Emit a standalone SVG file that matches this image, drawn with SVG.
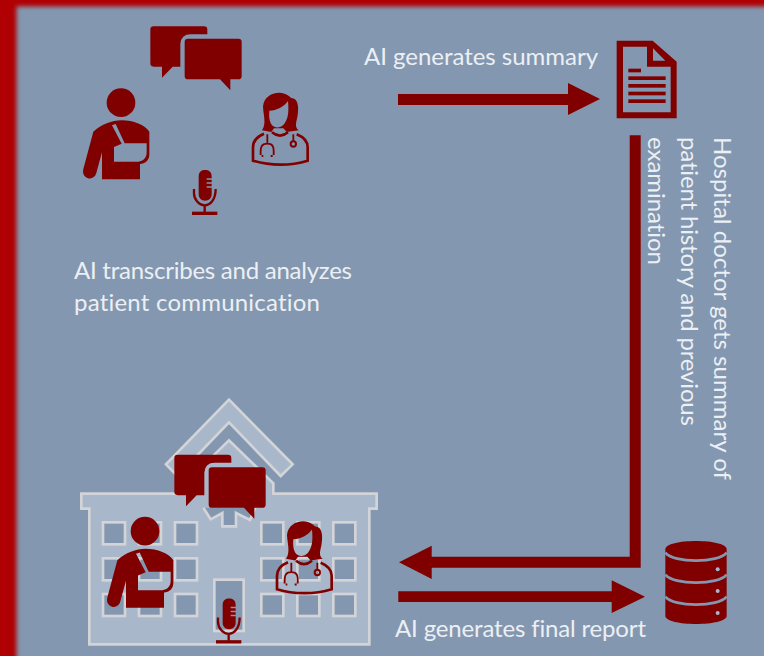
<svg xmlns="http://www.w3.org/2000/svg" xmlns:xlink="http://www.w3.org/1999/xlink" width="764" height="656" viewBox="0 0 764 656">
<style>
.dk{fill:#800000}
.ln{fill:none;stroke:#800000}
.t{font-family:"Lato","Open Sans","Liberation Sans",sans-serif;font-size:24px;fill:#eceff3;font-variant-ligatures:none}
.w{fill:#8397b0;stroke:#d2d4d8;stroke-width:8}
.b{fill:#a9b7ca;stroke:#d2d4d8;stroke-width:8}
</style>
<defs>
<filter id="blur" x="-5%" y="-5%" width="110%" height="110%"><feGaussianBlur stdDeviation="2.2"/></filter>
<g id="chat" transform="translate(70,15) scale(.33333)">
<path class="dk" d="M251,34H402Q412,34 412,44V58H362Q333,58 331,87V155H308L276,188V155H251Q241,155 241,145V44Q241,34 251,34Z"/>
<path class="dk" d="M354,71H505Q515,71 515,81V183Q515,193 505,193H481V226L450,193H354Q344,193 344,183V81Q344,71 354,71Z"/>
</g>
<g id="patient" transform="translate(70,15) scale(.33333)">
<circle class="dk" cx="153" cy="263" r="43"/>
<path class="dk" fill-rule="evenodd" d="M70,350C95,328 125,316 155,316C190,316 225,330 238,350V418C238,435 228,445 212,447H210V493H96V412L79,474C74,492 56,494 46,485C38,478 38,468 41,458Z
M126,331L137,327L164,385H230V412C230,428 220,439 205,440H132V396L155,386Z"/>
</g>
<g id="doctor" transform="translate(70,15) scale(.33333)">
<path class="dk" fill-rule="evenodd" d="M576,346C590,325 580,300 579,275C581,248 603,233 628,233C648,234 656,242 664,249C684,249 687,275 683,300C680,320 672,335 686,346L650,351L640,340H612L604,351Z
M598,287C620,287 642,275 654,258C657,290 655,310 642,328C628,342 612,340 603,326C597,315 597,300 598,287Z"/>
<path class="ln" stroke-width="8" d="M582,356C560,365 549,377 549,397V437C600,453 662,453 713,437V397C713,377 700,366 680,358M606,352Q630,372 654,352"/>
<path class="ln" stroke-width="5.5" d="M592,358V386C574,386 571,396 572,420M575,423H580M592,386C610,386 612,396 611,420M602,423H608M670,358V378"/>
<circle class="ln" stroke-width="6" cx="670" cy="387" r="8"/>
</g>
<g id="mic" transform="translate(70,15) scale(.33333)">
<path class="dk" d="M386,485C386,470 395,465 405,465C416,465 425,470 425,485V490H410V494H425V502H410V506H425V514H410V518H425V538C425,550 416,557 405,557C395,557 386,550 386,538Z"/>
<path class="ln" stroke-width="7" d="M372,522V535C372,555 388,571 404,571C420,571 437,555 437,522M404,571V592"/>
<rect class="dk" x="366" y="590" width="76" height="10"/>
</g>
</defs>

<rect width="764" height="656" fill="#b00004"/>
<rect x="16.5" y="6.5" width="800" height="700" fill="#8397b0" filter="url(#blur)"/>

<g id="hospital" transform="translate(70,395) scale(.33333)">
<path class="b" d="M477,14L668,208L632,243L477,82L322,243L288,208Z"/>
<path class="b" d="M34,296H345V265L477,136L610,265V296H920V341H898V748H58V341H34Z"/>
<path class="w" d="M400,338L422,373L457,354V394H498V354L540,375L556,338"/>
<g class="win">
<rect class="w" x="99" y="382" width="66" height="66"/><rect class="w" x="207" y="382" width="66" height="66"/><rect class="w" x="315" y="382" width="66" height="66"/>
<rect class="w" x="99" y="490" width="66" height="66"/><rect class="w" x="207" y="490" width="66" height="66"/><rect class="w" x="315" y="490" width="66" height="66"/>
<rect class="w" x="99" y="597" width="66" height="66"/><rect class="w" x="207" y="597" width="66" height="66"/><rect class="w" x="315" y="597" width="66" height="66"/>
<rect class="w" x="574" y="382" width="66" height="66"/><rect class="w" x="682" y="382" width="66" height="66"/><rect class="w" x="790" y="382" width="66" height="66"/>
<rect class="w" x="574" y="490" width="66" height="66"/><rect class="w" x="682" y="490" width="66" height="66"/><rect class="w" x="790" y="490" width="66" height="66"/>
<rect class="w" x="574" y="597" width="66" height="66"/><rect class="w" x="682" y="597" width="66" height="66"/><rect class="w" x="790" y="597" width="66" height="66"/>
<rect class="w" x="433" y="554" width="88" height="154"/>
</g>
</g>

<g id="consultation-top">
<use xlink:href="#chat" href="#chat"/>
<use xlink:href="#patient" href="#patient"/>
<use xlink:href="#doctor" href="#doctor"/>
<use xlink:href="#mic" href="#mic"/>
</g>
<g id="consultation-bottom" transform="translate(24,428.5)">
<use xlink:href="#chat" href="#chat"/>
<use xlink:href="#patient" href="#patient"/>
<use xlink:href="#doctor" href="#doctor"/>
<use xlink:href="#mic" href="#mic"/>
</g>

<g id="document" transform="translate(580,20) scale(.33333)">
<path class="dk" fill-rule="evenodd" d="M110,62H218L290,125V295H110ZM129,80V277H272V140H201V80ZM219,85V122H256Z"/>
<rect class="dk" x="145" y="146" width="38" height="11"/>
<rect class="dk" x="145" y="169" width="112" height="11"/>
<rect class="dk" x="145" y="192" width="112" height="11"/>
<rect class="dk" x="145" y="215" width="112" height="11"/>
<rect class="dk" x="145" y="238" width="112" height="11"/>
</g>

<g id="database" transform="translate(390,520) scale(.33333)">
<path class="dk" d="M826,88C826,72 870,63 918,63C966,63 1010,72 1010,88V288C1010,303 966,312 918,312C870,312 826,303 826,288Z"/>
<path fill="none" stroke="#8397b0" stroke-width="8" d="M826,98C850,130 986,130 1010,98M826,164C850,196 986,196 1010,164M826,230C850,262 986,262 1010,230"/>
<circle cx="983" cy="148" r="6" fill="#a9b7ca"/><circle cx="983" cy="213" r="6" fill="#a9b7ca"/><circle cx="983" cy="279" r="6" fill="#a9b7ca"/>
</g>

<g id="connectors">
<path class="dk" d="M398,94H568V83L600,99L568,115V105H398Z"/>
<path class="dk" d="M629.7,135.3H640.7V567.7H431.7V579L399,562.3L431.7,545.7V556.7H629.7Z"/>
<path class="dk" d="M398.3,591.3H611.7V580.3L645,596.7L611.7,613V602H398.3Z"/>
</g>

<g id="labels">
<text class="t" x="364" y="65" textLength="234">AI generates summary</text>
<text class="t" x="74" y="279" textLength="278">AI transcribes and analyzes</text>
<text class="t" x="74" y="311" textLength="246">patient communication</text>
<text class="t" x="395" y="637" textLength="251">AI generates final report</text>
<text class="t" transform="translate(714,137) rotate(90)" textLength="343">Hospital doctor gets summary of</text>
<text class="t" transform="translate(681,137) rotate(90)" textLength="289">patient history and previous</text>
<text class="t" transform="translate(648,137) rotate(90)" textLength="128">examination</text>
</g>
</svg>
